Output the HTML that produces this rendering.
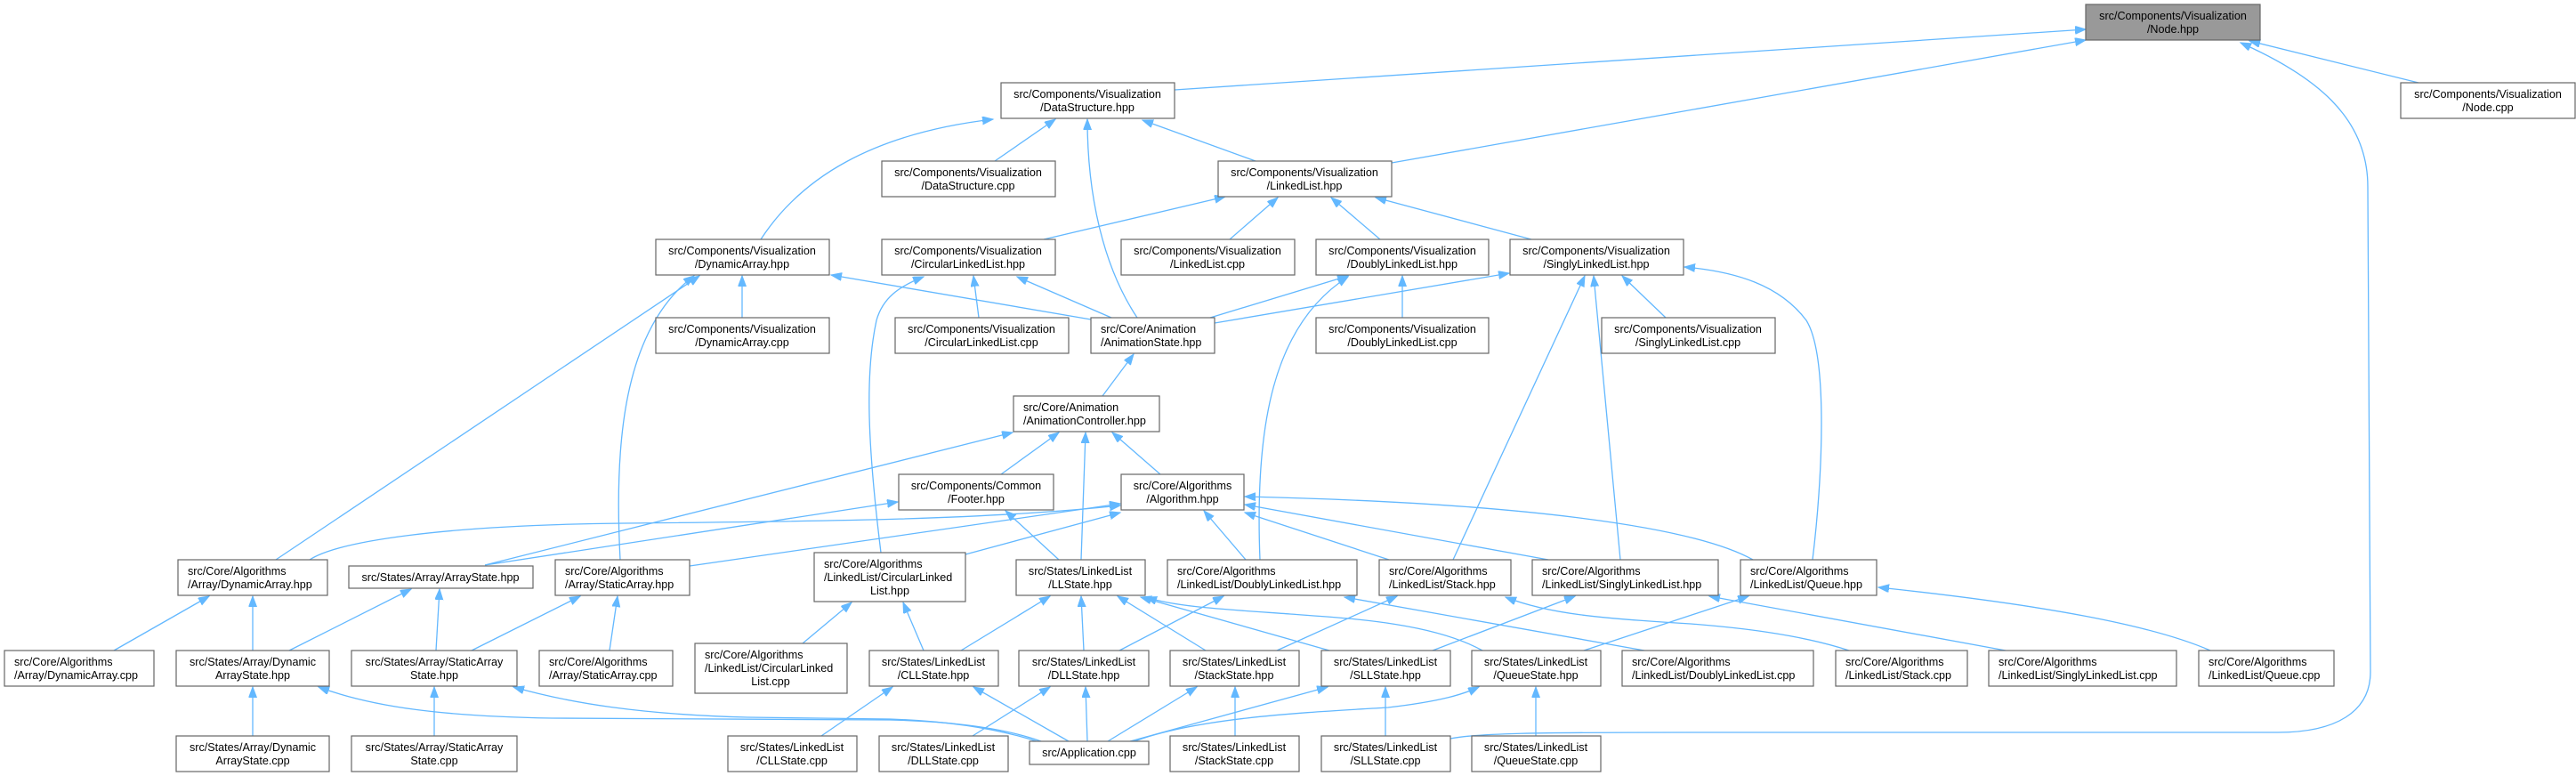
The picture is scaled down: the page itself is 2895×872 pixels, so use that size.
<!DOCTYPE html>
<html><head><meta charset="utf-8"><style>
html,body{margin:0;padding:0;background:#fff;}
svg{display:block;}
text{font-family:"Liberation Sans",Arial,sans-serif;font-size:12.6px;fill:#000;}
.b{fill:#fff;stroke:#666;stroke-width:1.2;}
.g{fill:#999;stroke:#666;stroke-width:1.2;}
.e{fill:none;stroke:#63b8ff;stroke-width:1.3;marker-end:url(#a);}
</style></head><body>
<svg width="2895" height="872" viewBox="0 0 2895 872" xmlns="http://www.w3.org/2000/svg">
<defs><marker id="a" markerUnits="userSpaceOnUse" markerWidth="14" markerHeight="10" refX="12" refY="4.5" orient="auto"><path d="M0,0 L12,4.5 L0,9 z" fill="#63b8ff" stroke="#63b8ff"/></marker></defs>

<!-- edges -->
<path class="e" d="M1320,101 L2344,33"/>
<path class="e" d="M1564,183 L2344,45"/>
<path class="e" d="M2718,93 L2528,46"/>
<path class="e" d="M1630,830 C1660,824 1720,823 1900,823 L2560,823 C2625,823 2664,800 2664,755 L2661,210 C2661,130 2600,85 2518,48"/>
<path class="e" d="M855,269 C900,200 980,150 1116,134"/>
<path class="e" d="M1118,181 L1186,134"/>
<path class="e" d="M1278,357 C1240,300 1222,220 1222,134"/>
<path class="e" d="M1411,181 L1284,135"/>
<path class="e" d="M1173,269 L1377,221"/>
<path class="e" d="M1382,269 L1436,222"/>
<path class="e" d="M1551,269 L1496,222"/>
<path class="e" d="M1721,269 L1546,222"/>
<path class="e" d="M834,357 L834,310"/>
<path class="e" d="M1226,359 L934,309"/>
<path class="e" d="M310,629 L786,310"/>
<path class="e" d="M697,629 C690,500 700,370 780,310"/>
<path class="e" d="M1100,357 L1094,310"/>
<path class="e" d="M1249,357 L1143,311"/>
<path class="e" d="M990,621 C975,500 972,420 985,360 C992,335 1010,322 1038,311"/>
<path class="e" d="M1360,357 L1515,310"/>
<path class="e" d="M1576,357 L1576,310"/>
<path class="e" d="M1416,629 C1410,480 1430,365 1515,311"/>
<path class="e" d="M1365,363 L1696,307"/>
<path class="e" d="M1872,357 L1823,310"/>
<path class="e" d="M1633,629 L1781,310"/>
<path class="e" d="M1821,629 L1791,310"/>
<path class="e" d="M2037,629 C2048,540 2055,400 2030,360 C2000,320 1950,305 1893,300"/>
<path class="e" d="M1239,445 L1274,398"/>
<path class="e" d="M545,635 L1138,486"/>
<path class="e" d="M1125,533 L1190,486"/>
<path class="e" d="M1215,629 L1220,486"/>
<path class="e" d="M1304,533 L1250,486"/>
<path class="e" d="M545,635 L1009,564"/>
<path class="e" d="M1190,629 L1130,574"/>
<path class="e" d="M348,629 C380,608 500,590 700,588 C900,586 1100,585 1259,568"/>
<path class="e" d="M775,636 L1259,566"/>
<path class="e" d="M1085,623 L1259,576"/>
<path class="e" d="M1400,629 L1353,574"/>
<path class="e" d="M1561,629 L1399,576"/>
<path class="e" d="M1740,629 L1399,567"/>
<path class="e" d="M1970,629 C1900,590 1700,565 1399,558"/>
<path class="e" d="M1080,731 L1180,670"/>
<path class="e" d="M1218,731 L1215,670"/>
<path class="e" d="M1355,731 L1256,670"/>
<path class="e" d="M1494,731 L1282,671"/>
<path class="e" d="M1666,731 C1610,700 1520,695 1450,690 C1380,685 1320,682 1288,671"/>
<path class="e" d="M902,723 L957,677"/>
<path class="e" d="M1038,731 L1015,677"/>
<path class="e" d="M1258,731 L1375,670"/>
<path class="e" d="M1848,731 L1511,671"/>
<path class="e" d="M1435,731 L1570,670"/>
<path class="e" d="M2078,731 C2020,712 1950,705 1900,701 C1800,695 1740,690 1692,671"/>
<path class="e" d="M1610,731 L1770,670"/>
<path class="e" d="M2254,731 L1921,670"/>
<path class="e" d="M1780,731 L1965,670"/>
<path class="e" d="M2484,731 C2420,703 2300,680 2111,660"/>
<path class="e" d="M128,731 L235,670"/>
<path class="e" d="M284,731 L284,670"/>
<path class="e" d="M325,731 L462,662"/>
<path class="e" d="M490,731 L494,662"/>
<path class="e" d="M530,731 L652,670"/>
<path class="e" d="M685,731 L694,670"/>
<path class="e" d="M284,827 L284,772"/>
<path class="e" d="M1170,833 C1120,815 1050,810 1000,809 L620,807 C500,805 420,795 358,772"/>
<path class="e" d="M488,827 L488,772"/>
<path class="e" d="M1168,834 C1120,818 1060,810 1000,808 L840,806 C720,803 640,790 577,772"/>
<path class="e" d="M923,827 L1003,772"/>
<path class="e" d="M1201,833 L1094,772"/>
<path class="e" d="M1093,827 L1180,772"/>
<path class="e" d="M1222,833 L1220,772"/>
<path class="e" d="M1388,827 L1388,772"/>
<path class="e" d="M1245,833 L1345,772"/>
<path class="e" d="M1270,833 L1492,772"/>
<path class="e" d="M1557,827 L1557,772"/>
<path class="e" d="M1275,833 C1350,805 1480,800 1560,795 C1620,788 1645,780 1662,772"/>
<path class="e" d="M1726,827 L1726,772"/>

<!-- nodes -->
<rect class="g" x="2344" y="5" width="196" height="40"/>
<text x="2442" y="22" text-anchor="middle">src/Components/Visualization</text><text x="2442" y="37" text-anchor="middle">/Node.hpp</text>

<rect class="b" x="2698" y="93" width="196" height="40"/>
<text x="2796" y="110" text-anchor="middle">src/Components/Visualization</text><text x="2796" y="125" text-anchor="middle">/Node.cpp</text>

<rect class="b" x="1125" y="93" width="195" height="40"/>
<text x="1222" y="110" text-anchor="middle">src/Components/Visualization</text><text x="1222" y="125" text-anchor="middle">/DataStructure.hpp</text>

<rect class="b" x="991" y="181" width="195" height="40"/>
<text x="1088" y="198" text-anchor="middle">src/Components/Visualization</text><text x="1088" y="213" text-anchor="middle">/DataStructure.cpp</text>

<rect class="b" x="1369" y="181" width="195" height="40"/>
<text x="1466" y="198" text-anchor="middle">src/Components/Visualization</text><text x="1466" y="213" text-anchor="middle">/LinkedList.hpp</text>

<rect class="b" x="737" y="269" width="195" height="40"/>
<text x="834" y="286" text-anchor="middle">src/Components/Visualization</text><text x="834" y="301" text-anchor="middle">/DynamicArray.hpp</text>

<rect class="b" x="991" y="269" width="195" height="40"/>
<text x="1088" y="286" text-anchor="middle">src/Components/Visualization</text><text x="1088" y="301" text-anchor="middle">/CircularLinkedList.hpp</text>

<rect class="b" x="1260" y="269" width="195" height="40"/>
<text x="1357" y="286" text-anchor="middle">src/Components/Visualization</text><text x="1357" y="301" text-anchor="middle">/LinkedList.cpp</text>

<rect class="b" x="1479" y="269" width="194" height="40"/>
<text x="1576" y="286" text-anchor="middle">src/Components/Visualization</text><text x="1576" y="301" text-anchor="middle">/DoublyLinkedList.hpp</text>

<rect class="b" x="1697" y="269" width="195" height="40"/>
<text x="1794" y="286" text-anchor="middle">src/Components/Visualization</text><text x="1794" y="301" text-anchor="middle">/SinglyLinkedList.hpp</text>

<rect class="b" x="737" y="357" width="195" height="40"/>
<text x="834" y="374" text-anchor="middle">src/Components/Visualization</text><text x="834" y="389" text-anchor="middle">/DynamicArray.cpp</text>

<rect class="b" x="1006" y="357" width="195" height="40"/>
<text x="1103" y="374" text-anchor="middle">src/Components/Visualization</text><text x="1103" y="389" text-anchor="middle">/CircularLinkedList.cpp</text>

<rect class="b" x="1226" y="357" width="139" height="40"/>
<text x="1237" y="374">src/Core/Animation</text><text x="1237" y="389">/AnimationState.hpp</text>

<rect class="b" x="1479" y="357" width="194" height="40"/>
<text x="1576" y="374" text-anchor="middle">src/Components/Visualization</text><text x="1576" y="389" text-anchor="middle">/DoublyLinkedList.cpp</text>

<rect class="b" x="1800" y="357" width="195" height="40"/>
<text x="1897" y="374" text-anchor="middle">src/Components/Visualization</text><text x="1897" y="389" text-anchor="middle">/SinglyLinkedList.cpp</text>

<rect class="b" x="1139" y="445" width="164" height="40"/>
<text x="1150" y="462">src/Core/Animation</text><text x="1150" y="477">/AnimationController.hpp</text>

<rect class="b" x="1010" y="533" width="174" height="40"/>
<text x="1097" y="550" text-anchor="middle">src/Components/Common</text><text x="1097" y="565" text-anchor="middle">/Footer.hpp</text>

<rect class="b" x="1260" y="533" width="138" height="40"/>
<text x="1329" y="550" text-anchor="middle">src/Core/Algorithms</text><text x="1329" y="565" text-anchor="middle">/Algorithm.hpp</text>

<rect class="b" x="200" y="629" width="168" height="40"/>
<text x="211" y="646">src/Core/Algorithms</text><text x="211" y="661">/Array/DynamicArray.hpp</text>

<rect class="b" x="392" y="636" width="207" height="25"/>
<text x="495" y="653" text-anchor="middle">src/States/Array/ArrayState.hpp</text>

<rect class="b" x="624" y="629" width="151" height="40"/>
<text x="635" y="646">src/Core/Algorithms</text><text x="635" y="661">/Array/StaticArray.hpp</text>

<rect class="b" x="915" y="621" width="170" height="55"/>
<text x="926" y="638">src/Core/Algorithms</text><text x="926" y="653">/LinkedList/CircularLinked</text><text x="1000" y="668" text-anchor="middle">List.hpp</text>

<rect class="b" x="1142" y="629" width="145" height="40"/>
<text x="1214" y="646" text-anchor="middle">src/States/LinkedList</text><text x="1214" y="661" text-anchor="middle">/LLState.hpp</text>

<rect class="b" x="1312" y="629" width="213" height="40"/>
<text x="1323" y="646">src/Core/Algorithms</text><text x="1323" y="661">/LinkedList/DoublyLinkedList.hpp</text>

<rect class="b" x="1550" y="629" width="148" height="40"/>
<text x="1561" y="646">src/Core/Algorithms</text><text x="1561" y="661">/LinkedList/Stack.hpp</text>

<rect class="b" x="1722" y="629" width="209" height="40"/>
<text x="1733" y="646">src/Core/Algorithms</text><text x="1733" y="661">/LinkedList/SinglyLinkedList.hpp</text>

<rect class="b" x="1956" y="629" width="153" height="40"/>
<text x="1967" y="646">src/Core/Algorithms</text><text x="1967" y="661">/LinkedList/Queue.hpp</text>

<rect class="b" x="5" y="731" width="168" height="40"/>
<text x="16" y="748">src/Core/Algorithms</text><text x="16" y="763">/Array/DynamicArray.cpp</text>

<rect class="b" x="198" y="731" width="172" height="40"/>
<text x="284" y="748" text-anchor="middle">src/States/Array/Dynamic</text><text x="284" y="763" text-anchor="middle">ArrayState.hpp</text>

<rect class="b" x="395" y="731" width="186" height="40"/>
<text x="488" y="748" text-anchor="middle">src/States/Array/StaticArray</text><text x="488" y="763" text-anchor="middle">State.hpp</text>

<rect class="b" x="606" y="731" width="150" height="40"/>
<text x="617" y="748">src/Core/Algorithms</text><text x="617" y="763">/Array/StaticArray.cpp</text>

<rect class="b" x="781" y="723" width="171" height="56"/>
<text x="792" y="740">src/Core/Algorithms</text><text x="792" y="755">/LinkedList/CircularLinked</text><text x="866" y="770" text-anchor="middle">List.cpp</text>

<rect class="b" x="977" y="731" width="145" height="40"/>
<text x="1049" y="748" text-anchor="middle">src/States/LinkedList</text><text x="1049" y="763" text-anchor="middle">/CLLState.hpp</text>

<rect class="b" x="1145" y="731" width="146" height="40"/>
<text x="1218" y="748" text-anchor="middle">src/States/LinkedList</text><text x="1218" y="763" text-anchor="middle">/DLLState.hpp</text>

<rect class="b" x="1315" y="731" width="145" height="40"/>
<text x="1387" y="748" text-anchor="middle">src/States/LinkedList</text><text x="1387" y="763" text-anchor="middle">/StackState.hpp</text>

<rect class="b" x="1485" y="731" width="145" height="40"/>
<text x="1557" y="748" text-anchor="middle">src/States/LinkedList</text><text x="1557" y="763" text-anchor="middle">/SLLState.hpp</text>

<rect class="b" x="1654" y="731" width="145" height="40"/>
<text x="1726" y="748" text-anchor="middle">src/States/LinkedList</text><text x="1726" y="763" text-anchor="middle">/QueueState.hpp</text>

<rect class="b" x="1823" y="731" width="215" height="40"/>
<text x="1834" y="748">src/Core/Algorithms</text><text x="1834" y="763">/LinkedList/DoublyLinkedList.cpp</text>

<rect class="b" x="2063" y="731" width="148" height="40"/>
<text x="2074" y="748">src/Core/Algorithms</text><text x="2074" y="763">/LinkedList/Stack.cpp</text>

<rect class="b" x="2235" y="731" width="211" height="40"/>
<text x="2246" y="748">src/Core/Algorithms</text><text x="2246" y="763">/LinkedList/SinglyLinkedList.cpp</text>

<rect class="b" x="2471" y="731" width="152" height="40"/>
<text x="2482" y="748">src/Core/Algorithms</text><text x="2482" y="763">/LinkedList/Queue.cpp</text>

<rect class="b" x="198" y="827" width="172" height="40"/>
<text x="284" y="844" text-anchor="middle">src/States/Array/Dynamic</text><text x="284" y="859" text-anchor="middle">ArrayState.cpp</text>

<rect class="b" x="395" y="827" width="186" height="40"/>
<text x="488" y="844" text-anchor="middle">src/States/Array/StaticArray</text><text x="488" y="859" text-anchor="middle">State.cpp</text>

<rect class="b" x="818" y="827" width="145" height="40"/>
<text x="890" y="844" text-anchor="middle">src/States/LinkedList</text><text x="890" y="859" text-anchor="middle">/CLLState.cpp</text>

<rect class="b" x="988" y="827" width="145" height="40"/>
<text x="1060" y="844" text-anchor="middle">src/States/LinkedList</text><text x="1060" y="859" text-anchor="middle">/DLLState.cpp</text>

<rect class="b" x="1157" y="833" width="134" height="26"/>
<text x="1224" y="850" text-anchor="middle">src/Application.cpp</text>

<rect class="b" x="1315" y="827" width="145" height="40"/>
<text x="1387" y="844" text-anchor="middle">src/States/LinkedList</text><text x="1387" y="859" text-anchor="middle">/StackState.cpp</text>

<rect class="b" x="1485" y="827" width="145" height="40"/>
<text x="1557" y="844" text-anchor="middle">src/States/LinkedList</text><text x="1557" y="859" text-anchor="middle">/SLLState.cpp</text>

<rect class="b" x="1654" y="827" width="145" height="40"/>
<text x="1726" y="844" text-anchor="middle">src/States/LinkedList</text><text x="1726" y="859" text-anchor="middle">/QueueState.cpp</text>
</svg>
</body></html>
